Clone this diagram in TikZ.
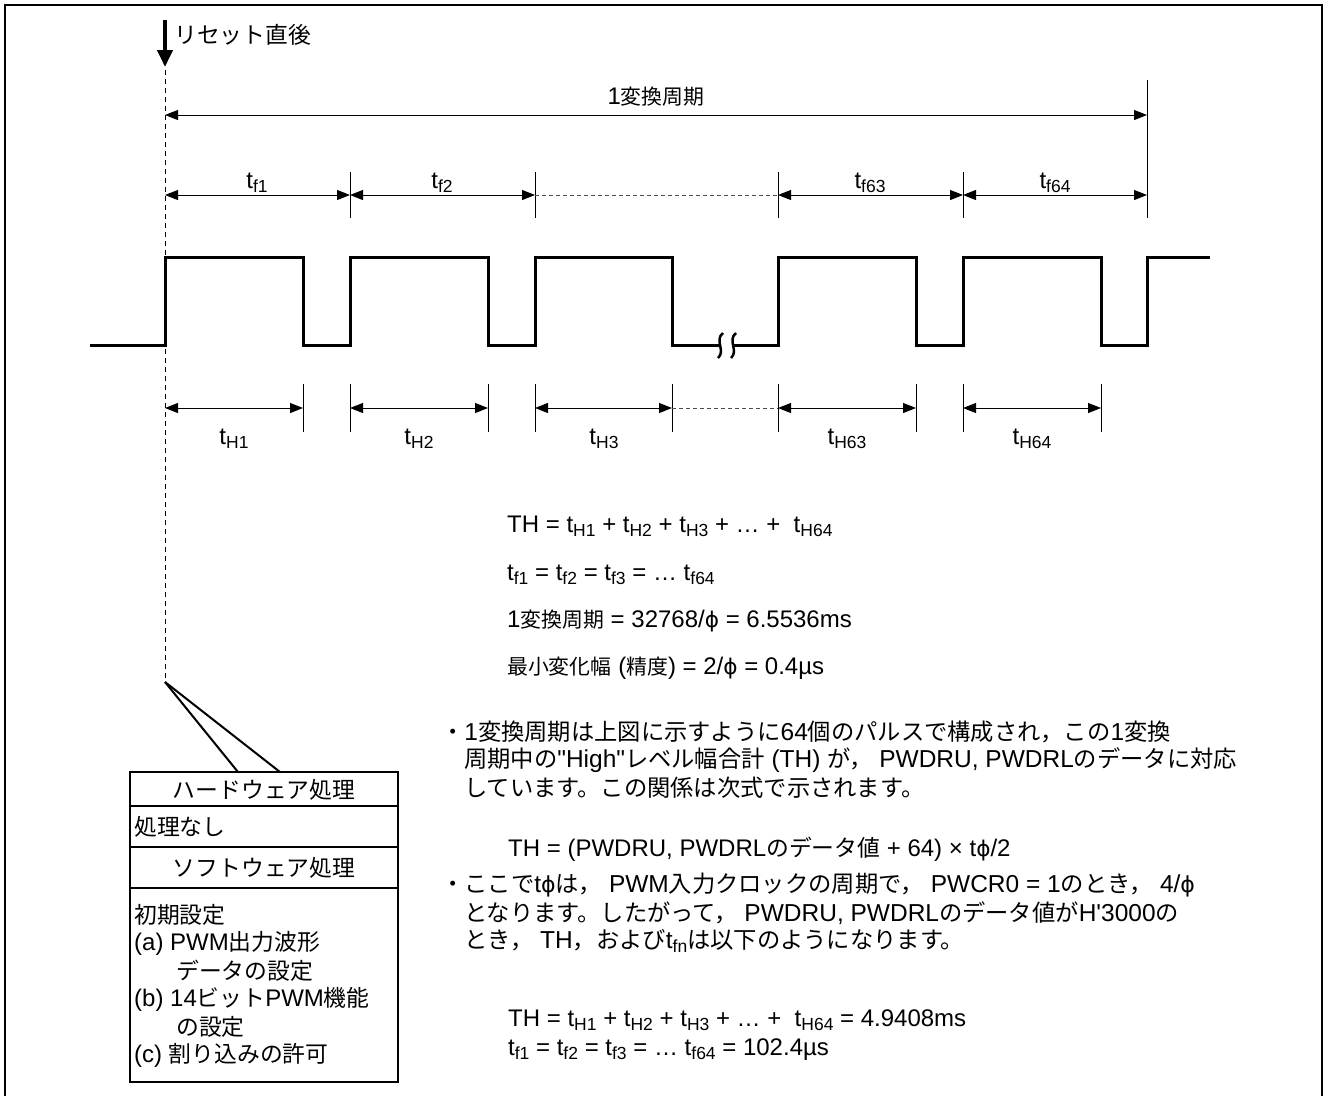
\documentclass[tikz,border=0pt]{standalone}
\usepackage{fontspec}
\setmainfont{Liberation Sans}
\newfontfamily\lsans{Liberation Sans}
\newfontfamily\jpf{Noto Sans CJK JP}[Scale=0.95]
\newfontfamily\jps{Noto Sans CJK JP}[Scale=0.87]
\newfontfamily\dvs{DejaVu Sans}[Scale=0.9]
\usetikzlibrary{arrows.meta}
\newcommand\J[1]{{\jpf #1}}
\newcommand\Js[1]{{\jps #1}}
\newcommand\sbs[1]{\raisebox{-0.32ex}{\fontsize{17.5}{17.5}\selectfont #1}}
\newcommand\ph{{\dvs ϕ}}
\tikzset{
  txt/.style={inner sep=0pt, font={\lsans\fontsize{24}{28}\selectfont}},
  txtb/.style={inner sep=0pt, anchor=west, font={\lsans\fontsize{24.5}{28}\selectfont}},
  dimline/.style={line width=1pt, {Triangle[length=13pt,width=10pt]}-{Triangle[length=13pt,width=10pt]}},
  tickline/.style={line width=1pt},
  gapline/.style={line width=1pt, dash pattern=on 4pt off 3pt, black!70},
  wave/.style={line width=3pt, line join=miter},
  frameline/.style={line width=2pt},
  boxline/.style={line width=2.5pt},
}
\begin{document}
\begin{tikzpicture}[x=1pt,y=-1pt]
\useasboundingbox (0,0) rectangle (1324,1096);
% frame
\draw[frameline] (5,1096) -- (5,5) -- (1322,5) -- (1322,1096);

% reset arrow
\coordinate (rs) at (165,20);
\coordinate (re) at (165,67);
\draw[line width=4pt, -{Triangle[length=17pt,width=15pt]}] (rs) -- (re);
\node[txt, anchor=west] (reset) at (174,35) {\J{リセット直後}};

% dashed reset line
\coordinate (d0) at (165,70);
\coordinate (d1) at (165,682);
\draw[line width=1pt, dash pattern=on 5pt off 4pt] (d0) -- (d1);

% one conversion period
\coordinate (P0) at (165,115);
\coordinate (P1) at (1147,115);
\coordinate (P1t) at (1147,80);
\coordinate (P1b) at (1147,218);
\draw[dimline] (P0) -- (P1);
\draw[tickline] (P1t) -- (P1b);
\node[txt] (period) at (656,97) {1\Js{変換周期}};

% tf row
\foreach \n/\x in {0/165,1/350,2/535,3/778,4/963,5/1147}{
  \coordinate (fm\n) at (\x,195);
  \coordinate (ft\n) at (\x,172);
  \coordinate (fb\n) at (\x,218);
}
\foreach \n in {1,2,3,4}{\draw[tickline] (ft\n) -- (fb\n);}
\draw[dimline] (fm0) -- (fm1);
\draw[dimline] (fm1) -- (fm2);
\draw[gapline] (fm2) -- (fm3);
\draw[dimline] (fm3) -- (fm4);
\draw[dimline] (fm4) -- (fm5);
\node[txt] (lf1) at (257,183) {t\sbs{f1}};
\node[txt] (lf2) at (442,183) {t\sbs{f2}};
\node[txt] (lf63) at (870,183) {t\sbs{f63}};
\node[txt] (lf64) at (1055,183) {t\sbs{f64}};

% waveform
\draw[wave] (90,345) -- (165,345) -- (165,257) -- (303,257) -- (303,345) -- (350,345)
  -- (350,257) -- (488,257) -- (488,345) -- (535,345) -- (535,257) -- (672,257)
  -- (672,345) -- (720,345);
\draw[wave] (733,345) -- (778,345) -- (778,257) -- (916,257) -- (916,345) -- (963,345)
  -- (963,257) -- (1101,257) -- (1101,345) -- (1147,345) -- (1147,257) -- (1210,257);
% break mark
\draw[line width=2.5pt] (723,333) .. controls (714,340) and (726,351) .. (718,358);
\draw[line width=2.5pt] (736,333) .. controls (727,340) and (739,351) .. (731,358);

% tH row
\foreach \n/\x in {0/165,1/303,2/350,3/488,4/535,5/672,6/778,7/916,8/963,9/1101}{
  \coordinate (hm\n) at (\x,408);
  \coordinate (ht\n) at (\x,384);
  \coordinate (hb\n) at (\x,432);
}
\foreach \n in {1,...,9}{\draw[tickline] (ht\n) -- (hb\n);}
\draw[dimline] (hm0) -- (hm1);
\draw[dimline] (hm2) -- (hm3);
\draw[dimline] (hm4) -- (hm5);
\draw[gapline] (hm5) -- (hm6);
\draw[dimline] (hm6) -- (hm7);
\draw[dimline] (hm8) -- (hm9);
\node[txt] (lh1) at (234,439) {t\sbs{H1}};
\node[txt] (lh2) at (419,439) {t\sbs{H2}};
\node[txt] (lh3) at (604,439) {t\sbs{H3}};
\node[txt] (lh63) at (847,439) {t\sbs{H63}};
\node[txt] (lh64) at (1032,439) {t\sbs{H64}};

% formulas
\node[txt, anchor=west] (eq1) at (507,526) {TH = t\sbs{H1} + t\sbs{H2} + t\sbs{H3} + … +\ \ t\sbs{H64}};
\node[txt, anchor=west] (eq2) at (507,575) {t\sbs{f1} = t\sbs{f2} = t\sbs{f3} = … t\sbs{f64}};
\node[txt, anchor=west] (eq3) at (507,621) {1\Js{変換周期} = 32768/\ph\ = 6.5536ms};
\node[txt, anchor=west] (eq4) at (507,668) {\Js{最小変化幅} (\Js{精度}) = 2/\ph\ = 0.4µs};

% bullet paragraph 1
\node[txtb] (b1a) at (441,732) {\J{・}1\J{変換周期は上図に示すように}64\J{個のパルスで構成され，この}1\J{変換}};
\node[txtb] (b1b) at (464,760) {\J{周期中の}"High"\J{レベル幅合計} (TH) \J{が，} PWDRU, PWDRL\J{のデータに対応}};
\node[txtb] (b1c) at (464,788) {\J{しています。この関係は次式で示されます。}};
\node[txt, anchor=west] (eq5) at (508,849) {TH = (PWDRU, PWDRL\J{のデータ値} + 64) × t\ph/2};

% bullet paragraph 2
\node[txtb] (b2a) at (441,885) {\J{・ここで}t\ph\J{は，} PWM\J{入力クロックの周期で，} PWCR0 = 1\J{のとき，} 4/\ph};
\node[txtb] (b2b) at (464,913) {\J{となります。したがって，} PWDRU, PWDRL\J{のデータ値が}H'3000\J{の}};
\node[txtb] (b2c) at (464,941) {\J{とき，} TH\J{，および}t\sbs{fn}\J{は以下のようになります。}};
\node[txt, anchor=west] (eq6) at (508,1020) {TH = t\sbs{H1} + t\sbs{H2} + t\sbs{H3} + … +\ \ t\sbs{H64} = 4.9408ms};
\node[txt, anchor=west] (eq7) at (508,1050) {t\sbs{f1} = t\sbs{f2} = t\sbs{f3} = … t\sbs{f64} = 102.4µs};

% processing box
\coordinate (bxTL) at (130,772);
\coordinate (bxBR) at (398,1082);
\draw[boxline] (bxTL) rectangle (bxBR);
\coordinate (dv1l) at (130,806); \coordinate (dv1r) at (398,806);
\coordinate (dv2l) at (130,847); \coordinate (dv2r) at (398,847);
\coordinate (dv3l) at (130,888); \coordinate (dv3r) at (398,888);
\draw[boxline] (dv1l) -- (dv1r);
\draw[boxline] (dv2l) -- (dv2r);
\draw[boxline] (dv3l) -- (dv3r);
\coordinate (c1) at (238,772);
\coordinate (c2) at (280,772);
\draw[line width=2pt] (d1) -- (c1);
\draw[line width=2pt] (d1) -- (c2);
\node[txt] (hw) at (264,790) {\J{ハードウェア処理}};
\node[txt, anchor=west] (none) at (134,827) {\J{処理なし}};
\node[txt] (sw) at (264,868) {\J{ソフトウェア処理}};
\node[txt, anchor=west] (s1) at (134,915) {\J{初期設定}};
\node[txt, anchor=west] (s2) at (134,943) {(a) PWM\J{出力波形}};
\node[txt, anchor=west] (s3) at (176,971) {\J{データの設定}};
\node[txt, anchor=west] (s4) at (134,999) {(b) 14\J{ビット}PWM\J{機能}};
\node[txt, anchor=west] (s5) at (176,1027) {\J{の設定}};
\node[txt, anchor=west] (s6) at (134,1055) {(c) \J{割り込みの許可}};
\end{tikzpicture}
\end{document}
